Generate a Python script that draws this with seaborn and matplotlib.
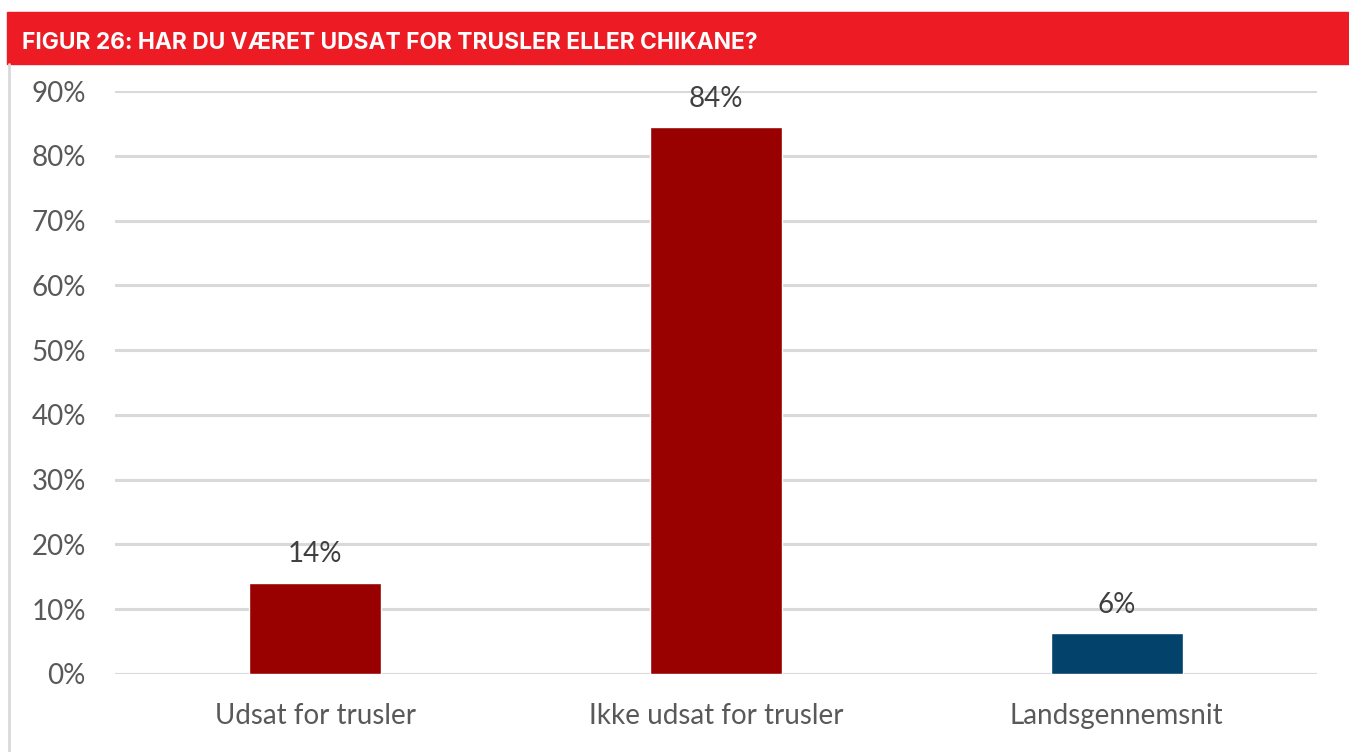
import numpy as np
import pandas as pd
import matplotlib
matplotlib.use("Agg")
import matplotlib.pyplot as plt
import seaborn as sns
from matplotlib.patches import Rectangle
from matplotlib.lines import Line2D

# data
categories = ["Udsat for trusler", "Ikke udsat for trusler", "Landsgennemsnit"]
values = [14.1, 84.4, 6.3]
labels = ["14%", "84%", "6%"]
bar_colors = ["#990000", "#990000", "#03426B"]
yticks = [0, 10, 20, 30, 40, 50, 60, 70, 80, 90]

title = "FIGUR 26: HAR DU VÆRET UDSAT FOR TRUSLER ELLER CHIKANE?"

sns.set_style("white")
plt.rcParams["font.family"] = ["Lato", "DejaVu Sans"]

df = pd.DataFrame({"cat": categories, "val": values})

W, H = 1349, 752
fig = plt.figure(figsize=(W / 100, H / 100), dpi=100)
ax = fig.add_axes([115 / W, 1 - 674 / H, (1317 - 115) / W, (674 - 91) / H])

sns.barplot(data=df, x="cat", y="val", hue="cat", palette=bar_colors,
            width=0.33, legend=False, ax=ax, saturation=1, zorder=3)

ax.set_ylim(0, 90)
ax.set_xlim(-0.5, 2.5)
ax.set_yticks(yticks)
ax.set_yticklabels([f"{t}%" for t in yticks])
ax.yaxis.grid(True, color="#d9d9d9", linewidth=2.2, zorder=0)
ax.set_axisbelow(True)
for s in ax.spines.values():
    s.set_visible(False)
ax.set_xlabel("")
ax.set_ylabel("")
ax.tick_params(axis="y", length=0, pad=21, labelsize=20, labelcolor="#595959")
ax.tick_params(axis="x", length=0, pad=21, labelsize=20, labelcolor="#595959")

for i, (v, lab) in enumerate(zip(values, labels)):
    ax.annotate(lab, (i, v), xytext=(0, 11), textcoords="offset points",
                ha="center", va="bottom", fontsize=20, color="#404040")

# red header band and left border
fig.patches.append(Rectangle((7 / W, 1 - 64 / H), 1 - 7 / W, 52 / H,
                             transform=fig.transFigure, color="#ED1C24", zorder=0))
fig.text(22 / W, 1 - 43 / H, title, color="white", fontsize=16.4, fontweight="bold",
         family=["Inter", "DejaVu Sans"], va="center", ha="left")
fig.lines.append(Line2D([8.5 / W, 8.5 / W], [0, 1 - 64 / H], transform=fig.transFigure,
                        color="#d9d9d9", linewidth=2))

fig.savefig("out.png", dpi=100)
